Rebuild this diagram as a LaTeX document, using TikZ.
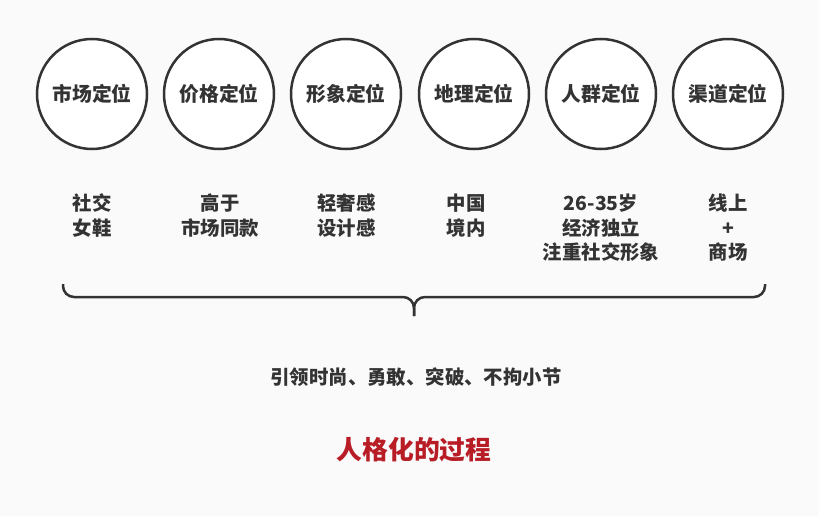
\documentclass[tikz,border=0pt]{standalone}
\usepackage{fontspec}
\setmainfont{Noto Sans CJK SC}
\definecolor{bgcol}{HTML}{FAFAFA}
\definecolor{ink}{HTML}{333333}
\definecolor{redtxt}{HTML}{B81C25}
\tikzset{
  circ/.style={circle, draw=ink, fill=white, line width=2.5pt, minimum size=110pt, inner sep=0pt,
    text=ink, font=\fontsize{19.8}{22}\selectfont\bfseries},
  desc/.style={align=center, text=ink, inner sep=0pt, font=\fontsize{19.4}{24.5}\selectfont\bfseries},
  bracestyle/.style={draw=ink, line width=2.5pt, rounded corners=11pt},
}
\begin{document}
\begin{tikzpicture}[x=1pt,y=-1pt]
\fill[bgcol] (0,0) rectangle (819,516);
\useasboundingbox (0,0) rectangle (819,516);
\node[circ] (c1) at (92,94) {市场定位};
\node[circ] (c2) at (219,94) {价格定位};
\node[circ] (c3) at (346,94) {形象定位};
\node[circ] (c4) at (474,94) {地理定位};
\node[circ] (c5) at (601,94) {人群定位};
\node[circ] (c6) at (728,94) {渠道定位};
\node[desc] (d1) at (92,215.5) {社交\\女鞋};
\node[desc] (d2) at (220,215.5) {高于\\市场同款};
\node[desc] (d3) at (346.5,215.5) {轻奢感\\设计感};
\node[desc] (d4) at (466,215.5) {中国\\境内};
\node[desc] (d5) at (601,228) {26-35岁\\经济独立\\注重社交形象};
\node[desc] (d6) at (728,228) {线上\\+\\商场};
\coordinate (bl) at (63,284);
\coordinate (br) at (765,284);
\coordinate (bm) at (414,316);
\draw[bracestyle] (bl) -- (bl |- 0,297) -- (bm |- 0,297) -- (bm);
\draw[bracestyle] (br) -- (br |- 0,297) -- (bm |- 0,297) -- (bm);
\node[desc] (slogan) at (416,377) {引领时尚、勇敢、突破、不拘小节};
\node[text=redtxt, inner sep=0pt, font=\fontsize{25.8}{30}\selectfont\bfseries] (title) at (414,450) {人格化的过程};
\end{tikzpicture}
\end{document}
